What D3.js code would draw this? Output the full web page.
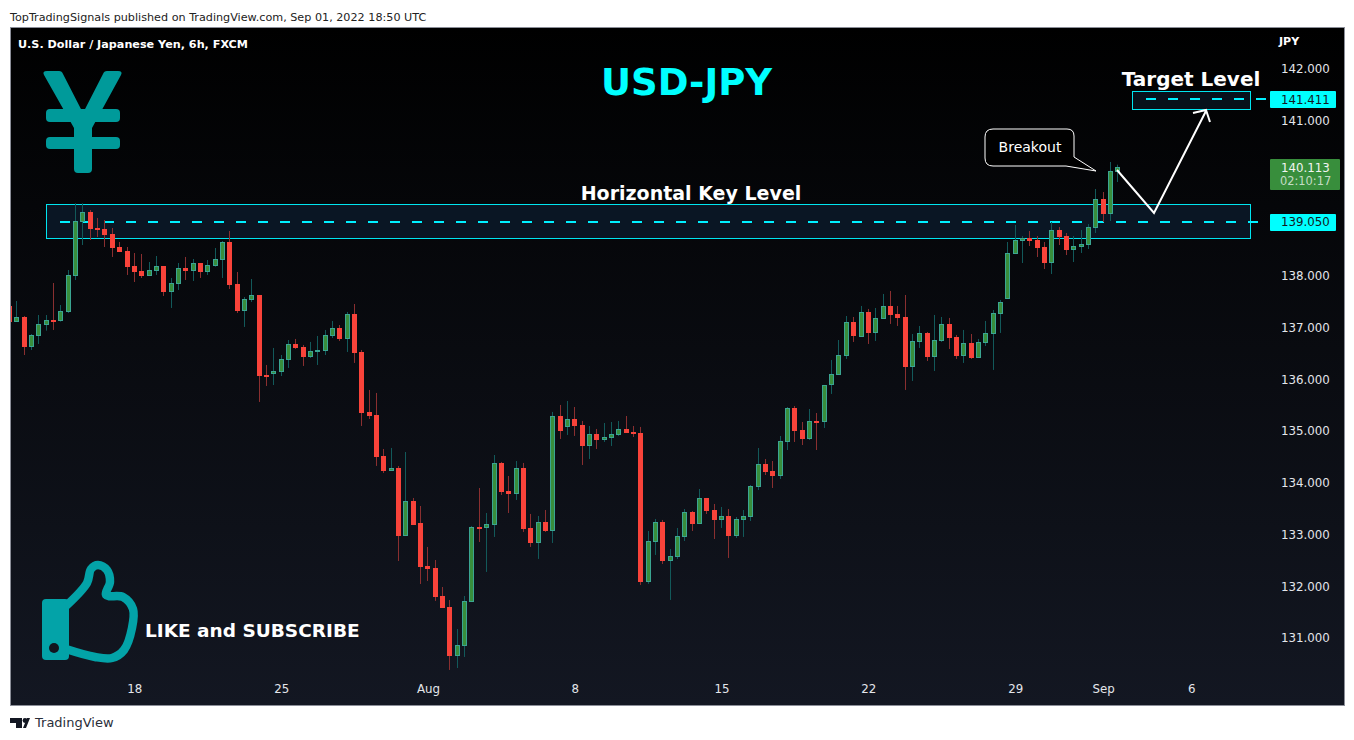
<!DOCTYPE html>
<html>
<head>
<meta charset="utf-8">
<script src="https://cdn.jsdelivr.net/npm/d3@7"></script>
<style>
  html, body { margin: 0; padding: 0; background: #fff; }
  svg { display: block; font-family: "DejaVu Sans", sans-serif; }
</style>
</head>
<body>
<svg id="chart" width="1354" height="740"></svg>
<script>
// 6h candles, first one is cut off by the left edge of the pane
const opens = [
  137.418,137.116,137.206,136.632,136.845,137.058,137.148,137.135,137.309,138.005,
  139.049,139.236,138.926,138.907,138.810,138.559,138.482,138.192,138.095,137.998,
  138.102,138.192,137.696,137.850,138.153,138.102,138.250,138.082,138.198,138.314,
  138.656,137.844,137.328,137.541,137.631,136.085,136.111,136.149,136.381,136.684,
  136.626,136.439,136.536,136.555,136.845,136.993,136.787,137.264,136.529,135.369,
  135.311,134.519,134.235,134.287,132.979,133.649,133.224,132.392,132.354,131.812,
  131.600,130.659,130.852,131.703,133.146,133.127,133.192,134.384,133.842,133.791,
  134.287,133.127,132.844,133.243,133.076,135.292,135.086,135.234,135.118,134.719,
  134.944,134.835,134.873,134.931,135.041,134.983,134.964,132.090,132.863,133.243,
  132.496,132.572,132.959,133.436,133.210,133.707,133.475,133.288,133.359,132.978,
  133.288,133.346,133.926,134.364,134.228,134.138,134.796,135.446,135.021,134.854,
  135.195,135.182,135.885,136.091,136.459,137.109,136.826,137.303,136.903,137.174,
  137.419,137.264,137.206,136.246,136.729,136.897,136.439,136.749,137.071,136.819,
  136.459,136.703,136.420,136.710,136.884,137.270,137.561,138.430,138.681,138.726,
  138.694,138.559,138.256,138.887,138.771,138.500,138.565,138.604,138.932,139.487,
  139.203,140.015];
const highs = [
  137.418,137.515,137.225,136.877,137.244,137.244,137.863,137.438,138.114,139.403,
  139.403,139.274,139.120,139.081,138.926,138.656,138.559,138.443,138.424,138.269,
  138.385,138.192,137.960,138.250,138.366,138.327,138.250,138.308,138.540,138.675,
  138.868,138.076,137.592,137.940,137.631,136.278,136.607,136.471,136.761,136.781,
  136.665,136.723,136.839,136.955,137.129,137.051,137.303,137.457,136.568,135.795,
  135.737,134.654,134.674,134.325,134.596,133.707,133.552,132.760,132.508,131.986,
  131.735,131.174,131.812,133.166,133.900,133.417,134.538,134.403,134.132,134.422,
  134.384,133.398,133.359,133.475,135.370,135.505,135.582,135.466,135.196,135.099,
  135.041,135.157,135.176,135.196,135.292,135.099,135.080,133.069,133.301,133.282,
  132.721,133.127,133.494,133.455,133.881,133.707,133.591,133.533,133.494,133.339,
  133.475,133.958,134.673,134.460,134.422,134.905,135.466,135.485,135.176,135.427,
  135.350,135.891,136.375,136.761,137.225,137.206,137.419,137.361,137.380,137.651,
  137.709,137.419,137.631,136.877,137.032,136.916,137.245,137.206,137.187,136.858,
  136.955,136.877,136.781,137.129,137.341,137.535,138.656,138.984,138.771,138.868,
  138.771,138.655,139.042,138.945,138.829,138.771,138.887,139.003,139.680,139.622,
  140.202,140.150];
const lows = [
  137.116,137.116,136.471,136.568,136.684,136.942,136.955,137.116,137.283,137.921,
  138.598,138.694,138.752,138.559,138.366,138.462,138.018,137.882,137.960,137.998,
  138.018,137.612,137.380,137.728,137.921,137.902,137.960,138.018,138.179,137.960,
  137.747,137.283,137.013,137.496,135.563,135.872,135.891,136.065,136.220,136.587,
  136.259,136.413,136.278,136.471,136.800,136.742,136.529,136.317,135.099,135.234,
  134.326,134.190,134.229,132.489,132.972,133.185,132.044,132.102,131.716,131.580,
  130.382,130.420,130.633,131.696,132.856,132.277,132.953,133.765,133.417,133.668,
  133.050,132.760,132.528,133.050,132.837,134.848,134.925,134.906,134.345,134.461,
  134.654,134.790,134.712,134.906,134.964,134.886,132.025,132.045,132.605,132.431,
  131.735,132.527,132.875,133.069,133.204,133.397,132.914,133.127,132.547,132.933,
  132.953,133.262,133.861,134.151,133.900,134.074,134.634,134.789,134.731,134.828,
  134.634,135.060,135.718,136.085,136.394,136.723,136.819,136.684,136.742,137.167,
  137.071,137.032,135.795,135.969,136.607,136.355,136.162,136.723,136.587,136.394,
  136.317,136.394,136.413,136.645,136.182,136.897,137.554,138.423,138.249,138.578,
  138.365,138.133,138.037,138.597,138.404,138.268,138.443,138.520,138.829,139.042,
  139.061,139.815];
const closes = [
  137.116,137.206,136.632,136.851,137.064,137.141,137.129,137.315,138.011,139.055,
  139.229,138.907,138.888,138.791,138.540,138.462,138.172,138.076,137.998,138.108,
  138.185,137.689,137.857,138.147,138.095,138.243,138.076,138.205,138.321,138.649,
  137.824,137.322,137.547,137.625,136.065,136.046,136.156,136.388,136.678,136.607,
  136.433,136.542,136.568,136.852,136.987,136.781,137.258,136.510,135.350,135.292,
  134.500,134.229,134.280,132.972,133.642,133.185,132.373,132.334,131.793,131.580,
  130.652,130.859,131.709,133.140,133.127,133.198,134.377,133.823,133.784,134.281,
  133.108,132.837,133.237,133.069,135.286,135.002,135.228,135.099,134.712,134.938,
  134.828,134.880,134.938,135.035,134.964,134.944,132.083,132.869,133.237,132.489,
  132.579,132.965,133.429,133.204,133.700,133.455,133.281,133.352,132.972,133.294,
  133.352,133.932,134.357,134.209,134.132,134.802,135.440,135.002,134.847,135.189,
  135.176,135.885,136.098,136.465,137.103,136.839,137.296,136.897,137.180,137.412,
  137.245,137.187,136.240,136.736,136.890,136.433,136.755,137.064,136.800,136.452,
  136.697,136.413,136.716,136.890,137.277,137.490,138.437,138.687,138.726,138.674,
  138.539,138.249,138.881,138.752,138.500,138.571,138.617,138.939,139.480,139.196,
  140.021,140.113];

const priceTicks = [131, 132, 133, 134, 135, 136, 137, 138, 139, 140, 141, 142];
const timeTickBars = [16, 36, 56, 76, 96, 116, 136, 148, 160];
const timeTickLabels = ['18', '25', 'Aug', '8', '15', '22', '29', 'Sep', '6'];

const keyLevel = 139.05;
const keyZone = [138.723, 139.371];
const targetLevel = 141.411;
const targetZone = [141.221, 141.569];
const lastPrice = 140.113;
const zoneBars = { key: [4.05, 168.1], target: [152, 168.1] };

const svg = d3.select('#chart');
const pane = { left: 10.5, top: 27.5, right: 1344.5, bottom: 705.5 };

const x = d3.scaleLinear().domain([0, 150]).range([16.9, 1117.9]);
const y = d3.scaleLinear().domain([131, 142]).range([638, 69]);
const snap = v => Math.floor(v) + 0.5;

const candles = opens.map((o, i) => ({
  bar: i - 1, open: o, high: highs[i], low: lows[i], close: closes[i], up: closes[i] >= o
}));

const defs = svg.append('defs');
const grad = defs.append('linearGradient')
  .attr('id', 'bg').attr('x1', 0).attr('y1', 0).attr('x2', 0).attr('y2', 1);
grad.append('stop').attr('offset', '0%').attr('stop-color', '#000000');
grad.append('stop').attr('offset', '100%').attr('stop-color', '#131722');
defs.append('clipPath').attr('id', 'paneClip').append('rect')
  .attr('x', pane.left + 0.5).attr('y', pane.top + 0.5)
  .attr('width', pane.right - pane.left - 1).attr('height', pane.bottom - pane.top - 1);

svg.append('rect').attr('width', 1354).attr('height', 740).attr('fill', '#fff');
svg.append('text').attr('x', 10).attr('y', 21)
  .attr('font-size', 11.2).attr('fill', '#222')
  .text('TopTradingSignals published on TradingView.com, Sep 01, 2022 18:50 UTC');

svg.append('rect')
  .attr('x', pane.left).attr('y', pane.top)
  .attr('width', pane.right - pane.left).attr('height', pane.bottom - pane.top)
  .attr('fill', 'url(#bg)').attr('stroke', '#8b8e98').attr('stroke-width', 1);

// key level and target zones sit under the candles
const zones = svg.append('g').attr('clip-path', 'url(#paneClip)');
function drawZone(bars, prices, level, dashFrom, dashTo, fill) {
  zones.append('rect')
    .attr('x', snap(x(bars[0])))
    .attr('y', snap(y(prices[1])))
    .attr('width', Math.round(x(bars[1]) - x(bars[0])))
    .attr('height', Math.round(y(prices[0]) - y(prices[1])))
    .attr('fill', fill).attr('stroke', '#00e5f0').attr('stroke-width', 1);
  zones.append('line')
    .attr('x1', dashFrom).attr('x2', dashTo)
    .attr('y1', Math.round(y(level))).attr('y2', Math.round(y(level)))
    .attr('stroke', '#00f0ff').attr('stroke-width', 2).attr('stroke-dasharray', '10 12');
}
drawZone(zoneBars.key, keyZone, keyLevel, 60, 1258, '#0a1624');
drawZone(zoneBars.target, targetZone, targetLevel, 1146, 1266, '#07111b');

const plot = svg.append('g').attr('clip-path', 'url(#paneClip)');
plot.selectAll('line.wick').data(candles).enter().append('line')
  .attr('class', 'wick')
  .attr('x1', d => snap(x(d.bar))).attr('x2', d => snap(x(d.bar)))
  .attr('y1', d => y(d.high)).attr('y2', d => y(d.low))
  .attr('stroke', d => d.up ? '#12595a' : '#8a2f30').attr('stroke-width', 1);
plot.selectAll('rect.body').data(candles).enter().append('rect')
  .attr('class', 'body')
  .attr('x', d => snap(x(d.bar)) - 2)
  .attr('width', 4)
  .attr('y', d => Math.round(y(Math.max(d.open, d.close))) + 0.5)
  .attr('height', d => Math.max(1, Math.round(y(Math.min(d.open, d.close))) - Math.round(y(Math.max(d.open, d.close))) - 1))
  .attr('fill', d => d.up ? '#388e3c' : '#f9433a')
  .attr('stroke', d => d.up ? '#3aa592' : '#f9433a').attr('stroke-width', 1);

// axes
const priceAxis = d3.axisRight(y).tickValues(priceTicks).tickSize(0).tickPadding(0)
  .tickFormat(d => d.toFixed(3));
const priceG = svg.append('g').attr('transform', 'translate(1281,0)').call(priceAxis);
priceG.select('.domain').remove();
priceG.selectAll('text').attr('font-size', 11.8).attr('font-family', '"DejaVu Sans", sans-serif').attr('fill', '#e4e6eb');

const timeAxis = d3.axisBottom(d3.scaleLinear().domain(x.domain()).range(x.range()))
  .tickValues(timeTickBars).tickSize(0).tickPadding(0)
  .tickFormat((d, i) => timeTickLabels[i]);
const timeG = svg.append('g').attr('transform', 'translate(0,685)').call(timeAxis);
timeG.select('.domain').remove();
timeG.selectAll('text').attr('font-size', 11.8).attr('font-family', '"DejaVu Sans", sans-serif').attr('fill', '#e4e6eb');

svg.append('text').attr('x', 1279).attr('y', 45).attr('font-size', 11).attr('font-weight', 'bold')
  .attr('fill', '#fff').text('JPY');
svg.append('text').attr('x', 18).attr('y', 48).attr('font-size', 11.2).attr('font-weight', 'bold')
  .attr('fill', '#fff').text('U.S. Dollar / Japanese Yen, 6h, FXCM');

// price labels on the axis
function priceLabel(price, text) {
  const cy = y(price);
  svg.append('rect').attr('x', 1270).attr('y', Math.round(cy) - 8)
    .attr('width', 66).attr('height', 17).attr('rx', 1).attr('fill', '#00ffff');
  svg.append('text').attr('x', 1281).attr('y', cy + 4.5)
    .attr('font-size', 11.8).attr('fill', '#131722').text(text);
}
priceLabel(targetLevel, targetLevel.toFixed(3));
priceLabel(keyLevel, keyLevel.toFixed(3));

svg.append('rect').attr('x', 1270).attr('y', 159).attr('width', 70).attr('height', 31)
  .attr('rx', 1).attr('fill', '#388e3c');
svg.append('text').attr('x', 1281).attr('y', 172).attr('font-size', 11.8).attr('fill', '#f2f4f2')
  .text(lastPrice.toFixed(3));
svg.append('text').attr('x', 1280).attr('y', 185).attr('font-size', 11.4).attr('fill', '#c4dcc5')
  .text('02:10:17');

// text annotations
function label(px, py, size, weight, fill, text, anchor) {
  svg.append('text').attr('x', px).attr('y', py).attr('font-size', size)
    .attr('font-weight', weight).attr('fill', fill)
    .attr('text-anchor', anchor || 'start').text(text);
}
label(686.5, 95, 37, 'bold', '#00ffff', 'USD-JPY', 'middle');
label(691, 200, 19, 'bold', '#fff', 'Horizontal Key Level', 'middle');
label(1191, 86, 20, 'bold', '#fff', 'Target Level', 'middle');
label(145, 637, 18.5, 'bold', '#fff', 'LIKE and SUBSCRIBE');

// breakout callout
svg.append('path')
  .attr('d', 'M993 129 H1067 Q1074 129 1074 136 V157 L1096 171 L1066 166 H993 Q985 166 985 158 V137 Q985 129 993 129 Z')
  .attr('fill', '#000').attr('stroke', '#fff').attr('stroke-width', 1);
label(1030, 152, 14, 'normal', '#fff', 'Breakout', 'middle');

// projected path
svg.append('path')
  .attr('d', 'M1117 170 L1154 213 L1206 111 M1193 113 L1206 110 L1210 122')
  .attr('fill', 'none').attr('stroke', '#fff').attr('stroke-width', 2);

// yen sign
const yen = svg.append('g').attr('fill', '#009a9a');
yen.append('path').attr('d', 'M44 75 Q42 71 47 71 L59 71 Q62 71 63 74 L83 113 L103 74 Q104 71 107 71 L118 71 Q123 71 121 75 L92 128 L92 169 Q92 173 88 173 L78 173 Q74 173 74 169 L74 128 Z');
yen.append('rect').attr('x', 46).attr('y', 109).attr('width', 74).attr('height', 13).attr('rx', 4);
yen.append('rect').attr('x', 46).attr('y', 137).attr('width', 74).attr('height', 12).attr('rx', 4);

// thumbs up
const thumb = svg.append('g');
thumb.append('rect').attr('x', 42).attr('y', 599).attr('width', 27).attr('height', 61).attr('rx', 4).attr('fill', '#03a3a8');
thumb.append('circle').attr('cx', 54).attr('cy', 648).attr('r', 5).attr('fill', '#12151f');
const thumbLine = d3.line().curve(d3.curveCatmullRom.alpha(0.5));
thumb.append('path')
  .attr('d', thumbLine([[66, 606], [87, 583], [91, 569], [98, 565], [107, 570], [110, 582], [106, 595],
                        [123, 597], [133, 609], [132, 628], [124, 650], [112, 658], [95, 657], [66, 649]]))
  .attr('fill', 'none').attr('stroke', '#03a3a8').attr('stroke-width', 8.5);

// footer logo
const logo = svg.append('g').attr('fill', '#131722');
logo.append('path').attr('d', 'M10 718 H22 V728 H16 V723 H10 Z');
logo.append('circle').attr('cx', 25).attr('cy', 720.5).attr('r', 2.4);
logo.append('path').attr('d', 'M26 728 L30 718 H27 L23 728 Z');
svg.append('text').attr('x', 35).attr('y', 727).attr('font-size', 13).attr('fill', '#2a2e39').text('TradingView');
</script>
</body>
</html>
